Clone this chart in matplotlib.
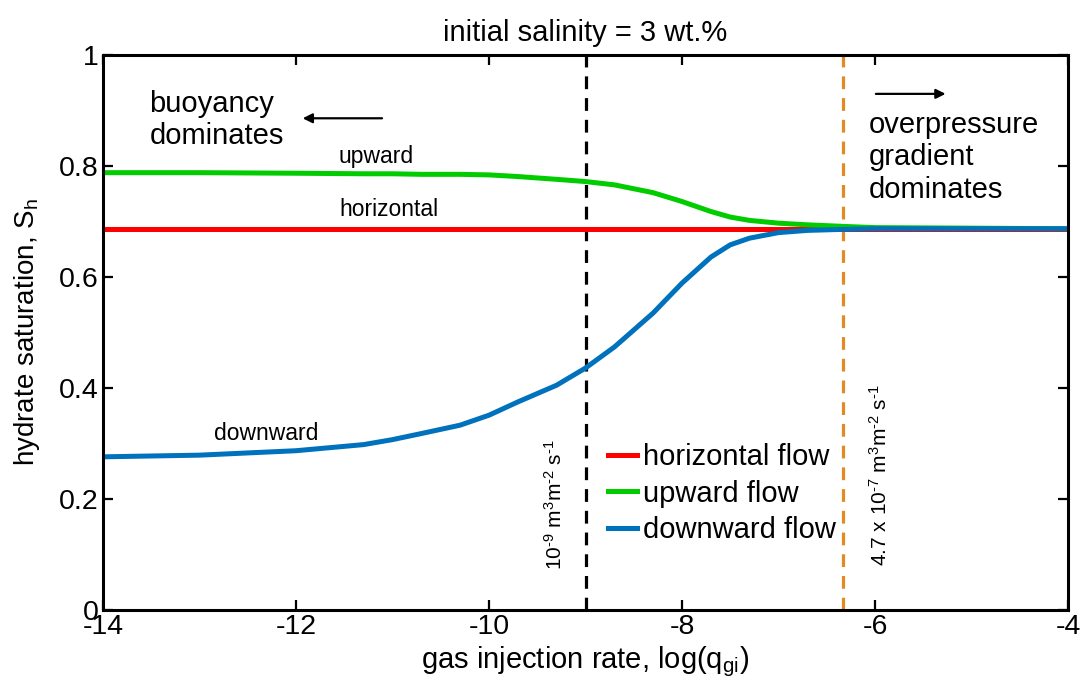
import numpy as np
import matplotlib
matplotlib.use('Agg')
import matplotlib.pyplot as plt

plt.rcParams['font.family'] = ['Liberation Sans', 'DejaVu Sans']
plt.rcParams['mathtext.fontset'] = 'custom'
plt.rcParams['mathtext.rm'] = 'Liberation Sans'
plt.rcParams['mathtext.it'] = 'Liberation Sans'
plt.rcParams['axes.unicode_minus'] = False

# log10 of gas injection rate
log_q = [-14, -13, -12, -11.3, -11, -10.7, -10.3, -10, -9.7, -9.3, -9,
         -8.7, -8.3, -8, -7.7, -7.5, -7.3, -7, -6.7, -6.3, -6, -5, -4]
# hydrate saturation per flow direction
sh_down = [0.276, 0.279, 0.287, 0.298, 0.307, 0.318, 0.333, 0.351, 0.375, 0.405, 0.436,
           0.474, 0.535, 0.589, 0.636, 0.658, 0.670, 0.680, 0.684, 0.686, 0.687, 0.687, 0.687]
sh_up = [0.788, 0.788, 0.787, 0.786, 0.786, 0.785, 0.785, 0.784, 0.781, 0.776, 0.772,
         0.766, 0.752, 0.736, 0.718, 0.708, 0.702, 0.697, 0.694, 0.691, 0.689, 0.688, 0.687]
sh_horiz = 0.687

q_buoy = -9                 # 1e-9 m3 m-2 s-1
q_over = np.log10(4.7e-7)   # 4.7e-7 m3 m-2 s-1

fig = plt.figure(figsize=(10.8, 6.86), dpi=100)
ax = fig.add_axes([0.0954, 0.1108, 0.8935, 0.809])

ax.axvline(q_buoy, color='k', ls=(0, (4, 2.8)), lw=2.3)
ax.axvline(q_over, color='#E38B22', ls=(0, (4, 2.8)), lw=2.3)

ax.plot([log_q[0], log_q[-1]], [sh_horiz, sh_horiz], color='#FF0000', lw=3.6, label='horizontal flow')
ax.plot(log_q, sh_up, color='#00CC00', lw=3.6, label='upward flow')
ax.plot(log_q, sh_down, color='#0072BD', lw=3.6, label='downward flow')

ax.set_xlim(-14, -4)
ax.set_ylim(0, 1)
ax.set_xticks(np.arange(-14, -3, 2))
ax.set_yticks(np.arange(0, 1.01, 0.2))
ax.set_yticklabels(['0', '0.2', '0.4', '0.6', '0.8', '1'])
ax.tick_params(direction='in', length=7, width=1.6, labelsize=20.5, top=True, right=True, pad=3)
for s in ax.spines.values():
    s.set_linewidth(2.2)

ax.set_xlabel('gas injection rate, log(q$_{gi}$)', fontsize=21, labelpad=3)
ax.set_ylabel('hydrate saturation, S$_h$', fontsize=20, labelpad=12)
ax.set_title('initial salinity = 3 wt.%', fontsize=21, pad=10)

# curve labels
ax.text(-11.17, 0.797, 'upward', fontsize=16.5, ha='center', va='bottom')
ax.text(-11.04, 0.701, 'horizontal', fontsize=16.5, ha='center', va='bottom')
ax.text(-12.31, 0.297, 'downward', fontsize=16.5, ha='center', va='bottom')

# regime annotations
ax.text(-13.52, 0.883, 'buoyancy\ndominates', fontsize=21, ha='left', va='center', linespacing=1.2)
ax.annotate('', xy=(-11.96, 0.886), xytext=(-11.08, 0.886),
            arrowprops=dict(arrowstyle='-|>', color='k', lw=1.6, mutation_scale=14))
ax.text(-6.07, 0.816, 'overpressure\ngradient\ndominates', fontsize=21, ha='left', va='center', linespacing=1.2)
ax.annotate('', xy=(-5.24, 0.930), xytext=(-6.02, 0.930),
            arrowprops=dict(arrowstyle='-|>', color='k', lw=1.6, mutation_scale=14))

ax.text(-9.32, 0.072, '10$^{\u20109}$ m$^3$m$^{\u20102}$ s$^{\u20101}$', rotation=90, fontsize=15,
        ha='center', va='bottom')
ax.text(-5.95, 0.08, '4.7 x 10$^{\u20107}$ m$^3$m$^{\u20102}$ s$^{\u20101}$', rotation=90, fontsize=15,
        ha='center', va='bottom')

ax.legend(loc='upper left', bbox_to_anchor=(0.523, 0.30), frameon=False, fontsize=21,
          handlelength=1.0, handletextpad=0.2, labelspacing=0.28, borderpad=0,
          borderaxespad=0)

fig.savefig('out.png', dpi=100)
